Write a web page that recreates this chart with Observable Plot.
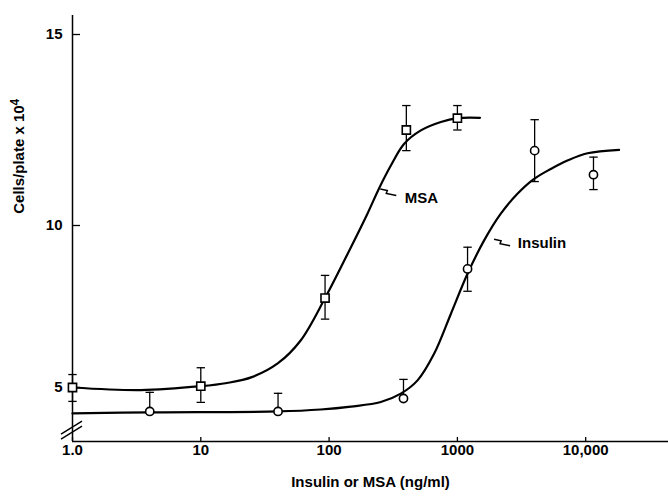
<!DOCTYPE html>
<html><head><meta charset="utf-8">
<script src="https://cdn.jsdelivr.net/npm/d3@7"></script>
<script src="https://cdn.jsdelivr.net/npm/@observablehq/plot@0.6"></script>
<style>
body{margin:0;background:#fff}
#chart svg{display:block}
</style>
</head><body><div id="chart"></div>
<script>
// ---- data ----
const xTicks = [1, 10, 100, 1000, 10000];
const xTickLabels = ["1.0", "10", "100", "1000", "10,000"];
const yTicks = [5, 10, 15];
const yTickLabels = ["5", "10", "15"];

// MSA (squares)
const msaX  = [1, 10, 93, 400, 1000];
const msaY  = [5.0, 5.04, 7.76, 12.5, 12.81];
const msaLo = [4.57, 4.54, 7.11, 11.96, 12.5];
const msaHi = [5.4, 5.61, 8.46, 13.14, 13.14];

// Insulin (circles)
const insX  = [4, 40, 380, 1200, 4000, 11500];
const insY  = [4.26, 4.26, 4.66, 8.66, 11.96, 11.33];
const insLo = [null, null, null, 7.97, 11.15, 10.94];
const insHi = [4.85, 4.82, 5.25, 9.33, 12.77, 11.79];

// fitted curves as drawn
const msaCurveX = [1, 3.4, 10, 16, 25, 40, 60, 93, 148, 199, 245, 303, 385, 519, 743, 1000, 1500];
const msaCurveY = [5.0, 4.92, 5.04, 5.14, 5.32, 5.75, 6.45, 7.76, 9.33, 10.31, 10.97, 11.57, 12.14, 12.49, 12.71, 12.81, 12.82];
const insCurveX = [1, 4, 40, 86, 148, 253, 362, 489, 658, 889, 1199, 1616, 2179, 2938, 3963, 5346, 7210, 10330, 18200];
const insCurveY = [4.20, 4.23, 4.26, 4.32, 4.41, 4.55, 4.81, 5.22, 6.04, 7.27, 8.51, 9.54, 10.31, 10.83, 11.22, 11.48, 11.70, 11.89, 11.98];

// curve labels
const labelText = ["MSA", "Insulin"];
const labelX = [389, 2960];
const labelY = [10.71, 9.44];
const pointerX = [244, 1880];
const pointerY = [10.97, 9.59];

// ---- build tables ----
const msaPts = msaX.map((x, i) => ({x, y: msaY[i], lo: msaLo[i], hi: msaHi[i]}));
const insPts = insX.map((x, i) => ({x, y: insY[i], lo: insLo[i], hi: insHi[i]}));
const msaCurve = msaCurveX.map((x, i) => ({x, y: msaCurveY[i]}));
const insCurve = insCurveX.map((x, i) => ({x, y: insCurveY[i]}));
const labels = labelText.map((t, i) => ({t, x: labelX[i], y: labelY[i], px: pointerX[i], py: pointerY[i]}));
const allPts = msaPts.concat(insPts);

const xMin = 1, xMax = 44200;
const yBottom = 3.33, yTop = 15.5;

const cap = {draw(ctx) { ctx.moveTo(-4.2, 0); ctx.lineTo(4.2, 0); }};
const FONT = "'Liberation Sans', Arial, Helvetica, sans-serif";

const pointers = (index, scales) => {
  const g = d3.create("svg:g").attr("fill", "none").attr("stroke", "black").attr("stroke-width", 1.5);
  for (const d of labels) {
    const px = scales.x(d.px), py = scales.y(d.py);
    g.append("path").attr("d", `M${px + 2},${py + 1} l7,1.5 l-1,3 l10,2`);
  }
  return g.node();
};

const breakMark = (index, scales) => {
  const px = scales.x(xMin), py = scales.y(3.7);
  const g = d3.create("svg:g").attr("stroke", "black").attr("stroke-width", 1.4);
  g.append("line").attr("x1", px - 11).attr("y1", py + 5).attr("x2", px + 10).attr("y2", py - 8);
  g.append("line").attr("x1", px - 11).attr("y1", py + 10).attr("x2", px + 10).attr("y2", py - 3);
  return g.node();
};

const yTitle = (index, scales) => {
  const t = d3.create("svg:text")
    .attr("transform", `translate(24,${scales.y(11.8)}) rotate(-90)`)
    .attr("text-anchor", "middle")
    .attr("font-family", FONT).attr("font-weight", "bold").attr("font-size", 15).attr("fill", "black");
  t.append("tspan").text("Cells/plate x 10");
  t.append("tspan").attr("dy", -5).attr("font-size", 12).text("4");
  return t.node();
};

const chart = Plot.plot({
  width: 668,
  height: 498,
  marginLeft: 72,
  marginRight: 0,
  marginTop: 15,
  marginBottom: 57,
  style: {fontFamily: FONT, fontSize: "15px", fontWeight: "bold", color: "black", background: "white", overflow: "visible"},
  x: {type: "log", domain: [xMin, xMax]},
  y: {type: "linear", domain: [yBottom, 5, 10, 15, yTop], range: [441, 387, 225, 34, 15]},
  marks: [
    Plot.ruleX([xMin], {y1: yBottom, y2: yTop, stroke: "black", strokeWidth: 1.5}),
    Plot.ruleY([yBottom], {x1: xMin, x2: xMax, stroke: "black", strokeWidth: 1.5}),
    Plot.axisX({ticks: xTicks, tickSize: -4, fill: "none", label: null, stroke: "black", strokeWidth: 1.3}),
    Plot.axisX({ticks: xTicks, tickSize: 0, tickPadding: 3, tickFormat: (d) => xTickLabels[xTicks.indexOf(d)], label: null, fill: "black"}),
    Plot.axisY({ticks: yTicks, tickSize: -8, fill: "none", label: null, stroke: "black", strokeWidth: 1.3}),
    Plot.axisY({ticks: yTicks, tickSize: 0, tickPadding: 10, tickFormat: d => yTickLabels[yTicks.indexOf(d)], label: null, fill: "black"}),
    breakMark,
    Plot.line(msaCurve, {x: "x", y: "y", curve: "catmull-rom", stroke: "black", strokeWidth: 2.2}),
    Plot.line(insCurve, {x: "x", y: "y", curve: "catmull-rom", stroke: "black", strokeWidth: 2.2}),
    Plot.ruleX(allPts, {x: "x", y1: d => d.lo ?? d.y, y2: "hi", stroke: "black", strokeWidth: 1.3}),
    Plot.dot(allPts, {x: "x", y: "hi", symbol: cap, stroke: "black", strokeWidth: 1.3}),
    Plot.dot(allPts.filter(d => d.lo != null), {x: "x", y: "lo", symbol: cap, stroke: "black", strokeWidth: 1.3}),
    Plot.dot(msaPts, {x: "x", y: "y", symbol: "square", r: 4.6, fill: "white", stroke: "black", strokeWidth: 1.6}),
    Plot.dot(insPts, {x: "x", y: "y", symbol: "circle", r: 4.1, fill: "white", stroke: "black", strokeWidth: 1.6}),
    Plot.text(labels, {x: "x", y: "y", text: "t", textAnchor: "start", fill: "black", fontSize: 15, fontWeight: "bold"}),
    pointers,
    Plot.text(["Insulin or MSA (ng/ml)"], {frameAnchor: "bottom", dy: 45, fill: "black", fontSize: 15, fontWeight: "bold"}),
    yTitle
  ]
});
document.getElementById("chart").append(chart);
</script>
</body></html>
